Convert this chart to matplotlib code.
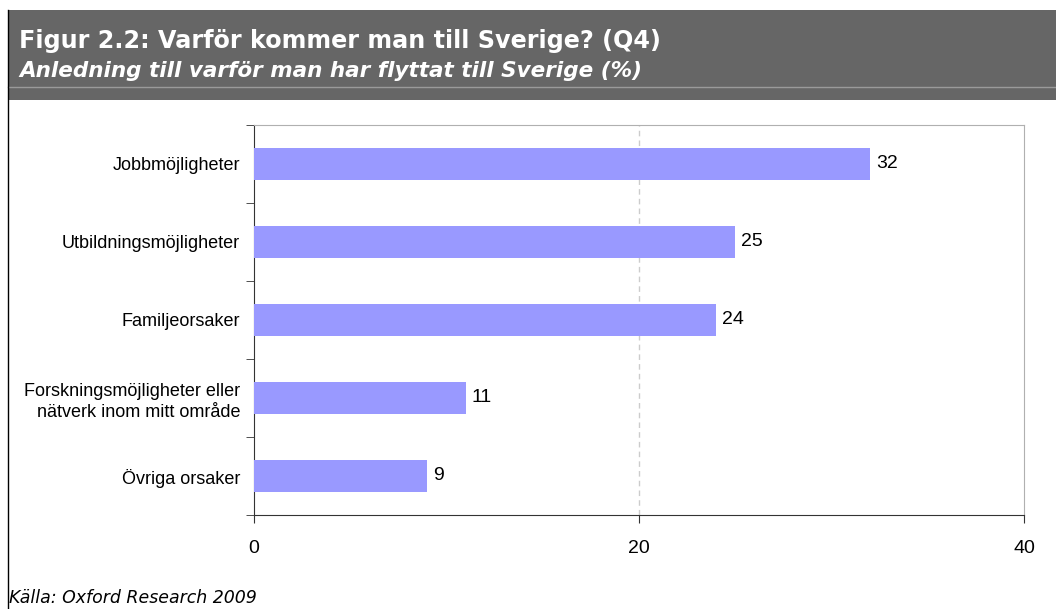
import matplotlib
matplotlib.use('agg')
import matplotlib.pyplot as plt
from matplotlib.patches import Rectangle
from matplotlib.lines import Line2D

# data
categories = ['Jobbmöjligheter', 'Utbildningsmöjligheter', 'Familjeorsaker',
              'Forskningsmöjligheter eller\nnätverk inom mitt område', 'Övriga orsaker']
values = [32, 25, 24, 11, 9]
xticks = [0, 20, 40]

W, H = 1056, 609
fig = plt.figure(figsize=(W / 100, H / 100), dpi=100)
fig.patch.set_facecolor('white')

# header band
fig.add_artist(Rectangle((8 / W, 1 - 100 / H), 1 - 8 / W, 90 / H,
                         transform=fig.transFigure, facecolor='#666666',
                         edgecolor='none'))
fig.add_artist(Line2D([8 / W, 1], [1 - 87 / H, 1 - 87 / H], transform=fig.transFigure,
                      color='#9a9a9a', lw=1))
fig.add_artist(Line2D([7.5 / W, 7.5 / W], [0, 1 - 10 / H], transform=fig.transFigure,
                      color='black', lw=1))
fig.text(19 / W, 1 - 41 / H, 'Figur 2.2: Varför kommer man till Sverige? (Q4)',
         color='white', fontsize=17.2, fontweight='bold', va='center',
         family='DejaVu Sans')
fig.text(19 / W, 1 - 71 / H, 'Anledning till varför man har flyttat till Sverige (%)',
         color='white', fontsize=15.5, fontweight='bold', style='italic', va='center',
         family='DejaVu Sans')
fig.text(9 / W, 1 - 598 / H, 'Källa: Oxford Research 2009', fontsize=12.5,
         style='italic', va='center', family='DejaVu Sans')

ax = fig.add_axes([254 / W, 1 - 515 / H, 770 / W, 390 / H])
pos = list(range(len(categories)))[::-1]
ax.barh(pos, values, height=0.42, color='#9999ff', zorder=3)
for p, v in zip(pos, values):
    ax.text(v + 0.3, p, str(v), va='center', ha='left', fontsize=14,
            family='Liberation Sans')

ax.set_xlim(0, 40)
ax.set_ylim(-0.5, len(categories) - 0.5)
ax.set_xticks(xticks)
ax.set_xticklabels([str(t) for t in xticks], fontsize=14, family='Liberation Sans')
ax.set_yticks(pos)
ax.set_yticklabels(categories, fontsize=13, family='Liberation Sans',
                   multialignment='right', linespacing=1.3)
ax.set_yticks([i - 0.5 for i in range(len(categories) + 1)], minor=True)
ax.tick_params(axis='y', which='major', length=0, pad=10)
ax.tick_params(axis='y', which='minor', length=6, direction='out', color='#333333')
ax.tick_params(axis='x', length=6, direction='out', color='#333333', pad=12)
ax.axvline(20, color='#cccccc', ls=(0, (4, 3)), lw=1, zorder=1)

ax.spines['left'].set_color('#333333')
ax.spines['bottom'].set_color('#333333')
ax.spines['top'].set_color('#b0b0b0')
ax.spines['right'].set_color('#b0b0b0')

fig.savefig('out.png', dpi=100)
